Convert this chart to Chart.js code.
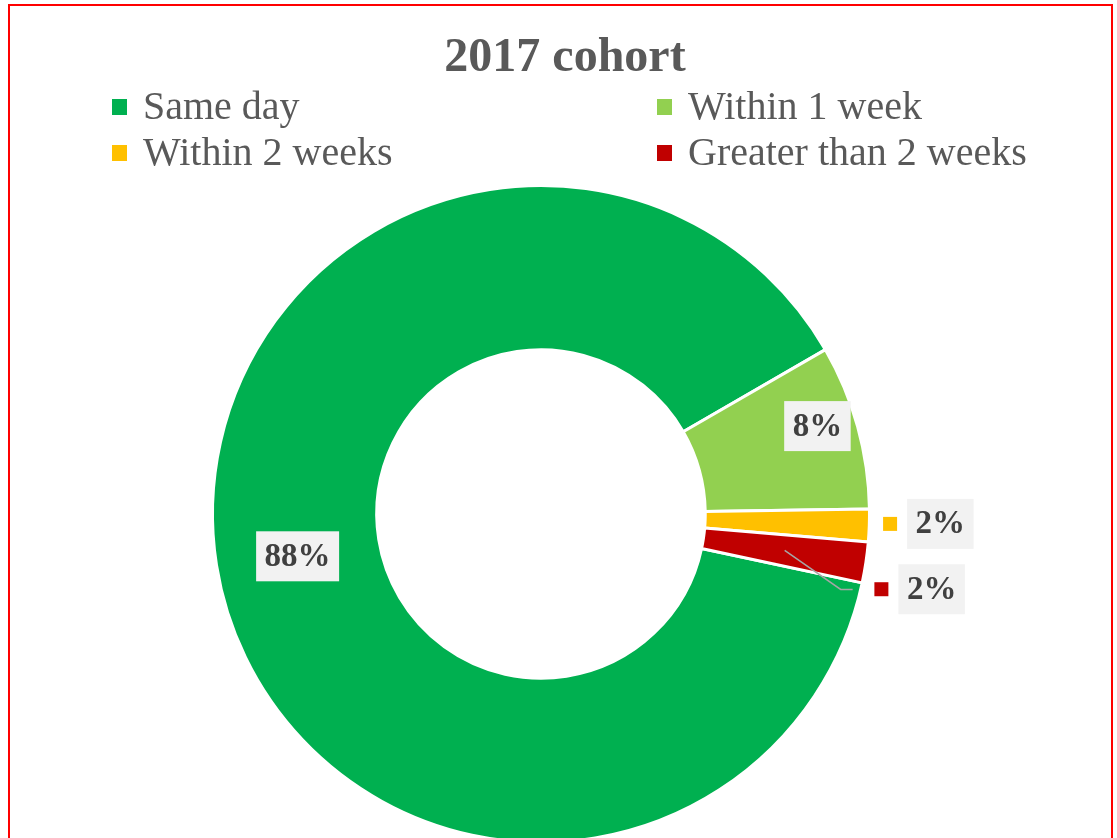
<!DOCTYPE html>
<html>
<head>
<meta charset="utf-8">
<title>2017 cohort</title>
<script src="https://cdn.jsdelivr.net/npm/chart.js@4.4.0/dist/chart.umd.min.js"></script>
<style>
    html, body { margin: 0; padding: 0; background: #fff; overflow: hidden; width: 1117px; height: 838px; }
    #frame { position: absolute; left: 8px; top: 4px; width: 1105px; height: 900px; border: 2px solid #ff0000; box-sizing: border-box; }
    #cohortChart { position: absolute; left: 0; top: 0; }
</style>
</head>
<body>
<div id="frame"></div>
<canvas id="cohortChart" width="1117" height="900"></canvas>
<script>
// Time to first contact, 2017 cohort (percent of cases)
const categories = ["Same day", "Within 1 week", "Within 2 weeks", "Greater than 2 weeks"];
const shares = [88.3, 8.1, 1.6, 2.0];
const colors = ["#00B050", "#92D050", "#FFC000", "#C00000"];
const chartTitle = "2017 cohort";

const SERIF = "'Liberation Serif', 'Times New Roman', serif";

/* ---------- label placement (polar, relative to each slice) ---------- */
// r: fraction of outer radius, da: degrees added to the slice's mid angle
const labelPlace = [
    { r: 0.752, da: -0.9, key: false },
    { r: 0.883, da: -2.2, key: false },
    { r: 1.216, da: -0.6, key: true },
    { r: 1.211, da: 2.4, key: true, leader: true }
];

/* ---------- title + two column legend ---------- */
const headerPlugin = {
    id: "header",
    afterDraw(chart) {
        const ctx = chart.ctx;
        ctx.save();
        ctx.fillStyle = "#595959";
        ctx.font = "bold 48px " + SERIF;
        ctx.textAlign = "center";
        ctx.textBaseline = "alphabetic";
        ctx.fillText(chartTitle, 565, 71);

        const cols = [112, 657];
        const rows = [119, 165];
        ctx.font = "40px " + SERIF;
        ctx.textAlign = "left";
        categories.forEach((c, i) => {
            const x = cols[i % 2], y = rows[Math.floor(i / 2)];
            ctx.fillStyle = colors[i];
            ctx.fillRect(x, y - 20, 15, 16);
            ctx.fillStyle = "#595959";
            ctx.fillText(c, x + 31, y);
        });
        ctx.restore();
    }
};

/* ---------- data labels in grey boxes ---------- */
const sliceLabels = {
    id: "sliceLabels",
    afterDatasetsDraw(chart) {
        const ctx = chart.ctx;
        const meta = chart.getDatasetMeta(0);
        const vals = chart.data.datasets[0].data;
        ctx.save();
        ctx.font = "bold 33px " + SERIF;
        ctx.textAlign = "center";
        ctx.textBaseline = "middle";
        meta.data.forEach((arc, i) => {
            const p = arc.getProps(["x", "y", "startAngle", "endAngle", "outerRadius"], true);
            const place = labelPlace[i];
            const a = (p.startAngle + p.endAngle) / 2 + place.da * Math.PI / 180;
            const cx = p.x + Math.cos(a) * p.outerRadius * place.r;
            const cy = p.y + Math.sin(a) * p.outerRadius * place.r;
            const txt = Math.round(vals[i]) + "%";
            const w = ctx.measureText(txt).width + 17, h = 50;

            if (place.leader) {
                const c = arc.getCenterPoint();
                ctx.strokeStyle = "#a6a6a6";
                ctx.lineWidth = 1.5;
                ctx.beginPath();
                ctx.moveTo(c.x, c.y);
                ctx.lineTo(c.x + 56, c.y + 39);
                ctx.lineTo(c.x + 68, c.y + 39);
                ctx.stroke();
            }

            ctx.fillStyle = "#F2F2F2";
            ctx.fillRect(cx - w / 2, cy - h / 2, w, h);
            if (place.key) {
                ctx.fillStyle = colors[i];
                ctx.fillRect(cx - w / 2 - 24, cy - 7, 14, 14);
            }
            ctx.fillStyle = "#404040";
            ctx.fillText(txt, cx, cy + 1);
        });
        ctx.restore();
    }
};

new Chart(document.getElementById("cohortChart"), {
    type: "doughnut",
    data: {
        labels: categories,
        datasets: [{
            data: shares,
            backgroundColor: colors,
            borderColor: "#ffffff",
            borderWidth: 3
        }]
    },
    options: {
        responsive: false,
        animation: false,
        rotation: 102.1,
        cutout: "50%",
        layout: { padding: { left: 211, right: 246, top: 184, bottom: 56 } },
        plugins: {
            legend: { display: false },
            title: { display: false },
            tooltip: { enabled: false }
        }
    },
    plugins: [sliceLabels, headerPlugin]
});
</script>
</body>
</html>
